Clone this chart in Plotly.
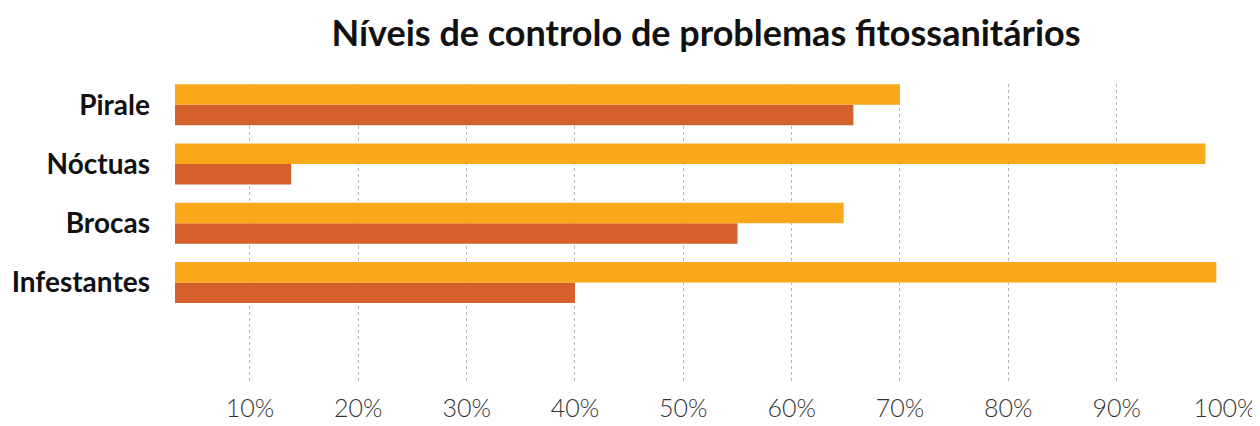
"""Níveis de controlo de problemas fitossanitários - horizontal grouped bars."""

import plotly.graph_objects as go

# Categories, top to bottom as they appear in the chart
categories = ["Pirale", "Nóctuas", "Brocas", "Infestantes"]

# Two series per category (fractions of 1)
orange_values = [0.70, 0.982, 0.648, 0.992]
red_values = [0.657, 0.138, 0.55, 0.40]

tick_values = [0.1, 0.2, 0.3, 0.4, 0.5, 0.6, 0.7, 0.8, 0.9, 1.0]
tick_labels = ["10%", "20%", "30%", "40%", "50%", "60%", "70%", "80%", "90%", "100%"]

ORANGE = "#F9A81C"
RED = "#D4602B"

# the page body adds an 8px offset, so the margins below compensate for it
PAGE_OFFSET = 8

# plotly draws categories bottom-up, so reverse the lists
cats_rev = categories[::-1]

fig = go.Figure()

# first trace sits lower inside each group in horizontal bars
fig.add_trace(go.Bar(
    y=cats_rev,
    x=red_values[::-1],
    orientation="h",
    marker=dict(color=RED, line=dict(width=0)),
    name="red",
    hovertemplate="%{y}: %{x:.0%}<extra></extra>",
))
fig.add_trace(go.Bar(
    y=cats_rev,
    x=orange_values[::-1],
    orientation="h",
    marker=dict(color=ORANGE, line=dict(width=0)),
    name="orange",
    hovertemplate="%{y}: %{x:.0%}<extra></extra>",
))

fig.update_layout(
    width=1260,
    height=426,
    margin=dict(l=175 - PAGE_OFFSET, r=35 + PAGE_OFFSET, t=84 - PAGE_OFFSET, b=44 + PAGE_OFFSET),
    barmode="group",
    bargap=0.31,
    bargroupgap=0,
    showlegend=False,
    plot_bgcolor="white",
    paper_bgcolor="white",
    title=dict(
        text="<b>Níveis de controlo de problemas fitossanitários</b>",
        font=dict(family="Lato", size=36, color="#111111"),
        x=(706 - PAGE_OFFSET) / 1260,
        xanchor="center",
        xref="container",
        y=1 - (33 - PAGE_OFFSET) / 426,
        yanchor="middle",
        yref="container",
    ),
    xaxis=dict(
        range=[0.0308, 1.0],
        tickvals=tick_values,
        ticktext=tick_labels,
        showgrid=True,
        gridcolor="#b8b8b8",
        gridwidth=1,
        griddash="dot",
        zeroline=False,
        showline=False,
        ticks="",
        automargin=False,
        ticklabelstandoff=9,
        tickfont=dict(family="Lato", size=25, color="#333333", weight=300),
    ),
    yaxis=dict(
        type="category",
        categoryorder="array",
        categoryarray=cats_rev,
        range=[-1.68, 3.35],
        showgrid=False,
        zeroline=False,
        showline=False,
        ticks="",
        automargin=False,
        ticklabelstandoff=24,
        tickfont=dict(family="Lato", size=28, color="#111111", weight="bold"),
    ),
)

fig.write_html("out.html")
